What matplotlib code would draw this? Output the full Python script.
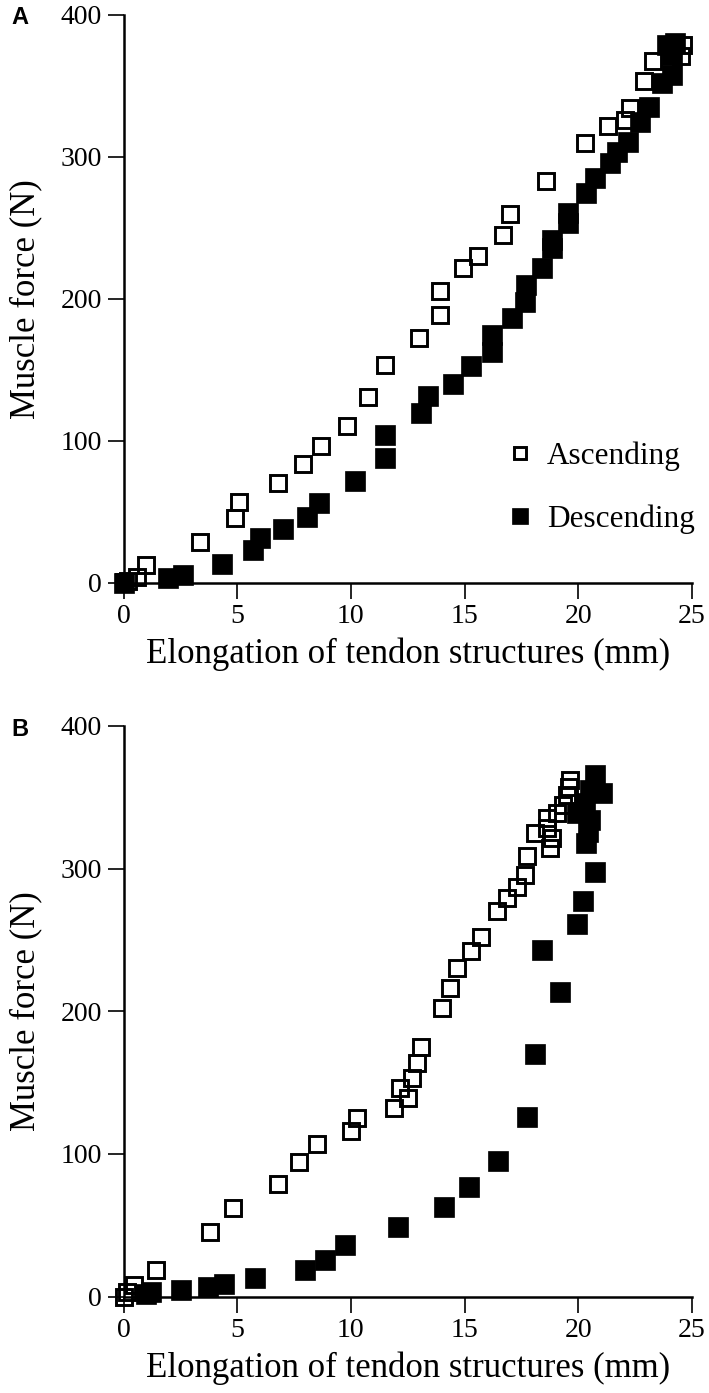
import matplotlib
matplotlib.use("Agg")
import matplotlib.pyplot as plt

plt.rcParams['font.family'] = ['Liberation Serif', 'DejaVu Serif']

# panel A: ascending / descending (elongation mm, force N)
a_asc_x = [0.0, 0.2, 0.58, 0.99, 3.36, 4.9, 5.1, 6.8, 7.88, 8.67, 9.81, 10.77, 11.5, 13.0,
           13.92, 13.94, 14.92, 15.6, 16.7, 17.0, 18.6, 20.3, 21.3, 22.05, 22.27, 22.9, 23.3,
           24.5, 24.6]
a_asc_y = [0.5, 1.5, 4.2, 12.5, 28.4, 45.3, 56.6, 70, 83.6, 96.3, 110.6, 131, 153.3, 172.1,
           188.5, 205.2, 221.8, 230, 244.9, 259.4, 282.9, 309.9, 321.6, 325.8, 334, 353.3, 367.6,
           371, 378.7]
a_desc_x = [0.0, 1.97, 2.6, 4.32, 5.71, 6.0, 7.0, 8.08, 8.6, 10.2, 11.5, 11.5, 13.1, 13.4,
            14.5, 15.3, 16.2, 16.2, 17.07, 17.66, 17.7, 18.4, 18.83, 18.83, 19.56, 19.56, 20.33,
            20.73, 21.4, 21.69, 22.2, 22.7, 23.1, 23.67, 24.1, 24.1, 23.89, 24.25]
a_desc_y = [0.0, 3.1, 5.4, 12.9, 23, 31.3, 37.6, 46.5, 56.3, 71.8, 88, 104, 119.8, 131.5,
            139.9, 152.6, 162.7, 174.4, 186.2, 197.9, 209.6, 221.4, 235.5, 241.3, 253, 260.1, 274.6,
            284.8, 295.4, 303.5, 310.6, 324.6, 335.2, 351.7, 357.5, 371.6, 378.7, 379.9]

# panel B
b_asc_x = [0.0, 0.15, 0.44, 1.42, 3.8, 4.83, 6.81, 7.72, 8.52, 9.99, 10.25, 11.9, 12.52, 12.16,
           12.67, 12.89, 13.08, 13.99, 14.36, 14.65, 15.28, 15.72, 16.44, 16.85, 17.29, 17.66,
           17.73, 18.1, 18.76, 18.83, 18.61, 18.61, 19.05, 19.34, 19.49, 19.6, 19.63]
b_asc_y = [0.0, 3, 8.2, 18.5, 45.1, 61.9, 78.8, 94.2, 107, 116.3, 125, 132, 139, 146,
           153, 163.6, 174.8, 202.1, 216.1, 230.1, 242.5, 252.3, 270.5, 279.2, 287.3, 295.5,
           308.8, 324.7, 314.2, 321.2, 328.3, 335.3, 338.7, 344.6, 351.6, 357, 362]
b_desc_x = [1.0, 1.2, 2.55, 3.7, 4.4, 5.8, 8.0, 8.85, 9.74, 12.08, 14.1, 15.19, 16.45, 17.73,
            18.1, 19.2, 18.39, 19.93, 20.19, 20.73, 20.36, 20.44, 20.5, 19.93, 20.3, 20.5,
            21.03, 20.73]
b_desc_y = [2, 3, 5, 6.5, 9, 13, 19, 26, 36.5, 49.1, 63.1, 77.1, 95.1, 125.7,
            170.1, 213.3, 243, 261.2, 277.5, 297.4, 317.7, 325.9, 334, 338.7, 345.8, 355,
            352.8, 365.6]

fig = plt.figure(figsize=(7.09, 13.93), dpi=100)
ax1 = fig.add_axes([0.1742, 0.5817, 0.8018, 0.4078])
ax2 = fig.add_axes([0.1742, 0.0691, 0.8018, 0.4099])

for ax, ax_, ay, dx, dy in [(ax1, a_asc_x, a_asc_y, a_desc_x, a_desc_y),
                            (ax2, b_asc_x, b_asc_y, b_desc_x, b_desc_y)]:
    ax.plot(ax_, ay, 's', ms=11, mfc='none', mec='black', mew=2.1, clip_on=False,
            label='Ascending', zorder=3)
    ax.plot(dx, dy, 's', ms=14.5, mfc='black', mec='black', mew=0.5, clip_on=False,
            label='Descending', zorder=4)
    ax.set_xlim(0, 25)
    ax.set_ylim(0, 400)
    ax.set_xticks([0, 5, 10, 15, 20, 25])
    ax.set_yticks([0, 100, 200, 300, 400])
    ax.spines['top'].set_visible(False)
    ax.spines['right'].set_visible(False)
    ax.spines['left'].set_linewidth(1.8)
    ax.spines['bottom'].set_linewidth(1.8)
    ax.tick_params(direction='out', length=11.5, width=1.2, labelsize=20, pad=4)
    ax.set_xlabel('Elongation of tendon structures (mm)', fontsize=25, labelpad=6)
    ax.set_ylabel('Muscle force (N)', fontsize=25, labelpad=13)

ax1.legend(loc='center left', bbox_to_anchor=(0.67, 0.1676), frameon=False, fontsize=22.5,
           numpoints=1, markerscale=0.78, handlelength=1.0, handletextpad=0.36,
           labelspacing=1.07, borderpad=0, borderaxespad=0)

fig.text(11 / 709, 1 - 18 / 1393, 'A', fontsize=17, fontweight='bold',
         family='Liberation Sans', va='center', ha='left')
fig.text(11 / 709, 1 - 729 / 1393, 'B', fontsize=17, fontweight='bold',
         family='Liberation Sans', va='center', ha='left')

fig.savefig('out.png', dpi=100)
